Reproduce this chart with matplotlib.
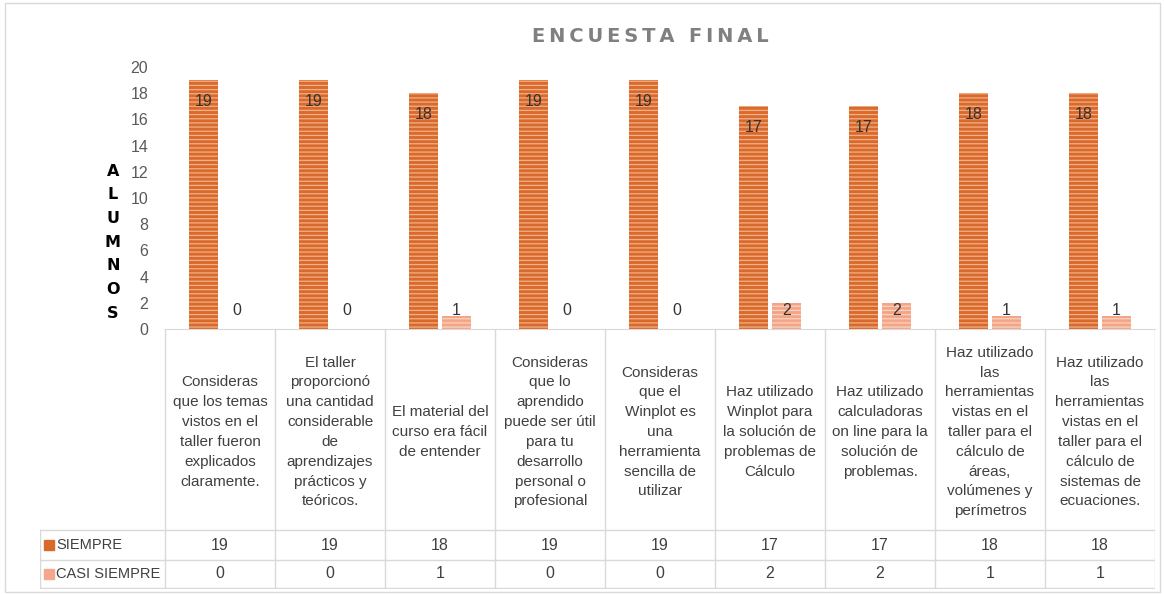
import matplotlib.pyplot as plt
import numpy as np
from matplotlib.patches import Rectangle

plt.rcParams['font.family'] = ['Liberation Sans', 'DejaVu Sans']
plt.rcParams['hatch.linewidth'] = 0.9

categories = [
    "Consideras\nque los temas\nvistos en el\ntaller fueron\nexplicados\nclaramente.",
    "El taller\nproporcionó\nuna cantidad\nconsiderable\nde\naprendizajes\nprácticos y\nteóricos.",
    "El material del\ncurso era fácil\nde entender",
    "Consideras\nque lo\naprendido\npuede ser útil\npara tu\ndesarrollo\npersonal o\nprofesional",
    "Consideras\nque el\nWinplot es\nuna\nherramienta\nsencilla de\nutilizar",
    "Haz utilizado\nWinplot para\nla solución de\nproblemas de\nCálculo",
    "Haz utilizado\ncalculadoras\non line para la\nsolución de\nproblemas.",
    "Haz utilizado\nlas\nherramientas\nvistas en el\ntaller para el\ncálculo de\náreas,\nvolúmenes y\nperímetros",
    "Haz utilizado\nlas\nherramientas\nvistas en el\ntaller para el\ncálculo de\nsistemas de\necuaciones.",
]
siempre = [19, 19, 18, 19, 19, 17, 17, 18, 18]
casi_siempre = [0, 0, 1, 0, 0, 2, 2, 1, 1]
series_names = ["SIEMPRE", "CASI SIEMPRE"]
y_label = "ALUMNOS"
title = "ENCUESTA FINAL"

W, H = 1164, 595
fig = plt.figure(figsize=(W / 100, H / 100), dpi=100)
fig.patch.set_facecolor('white')
fig.patches.append(Rectangle((5 / W, 3 / H), 1155 / W, 589 / H, transform=fig.transFigure,
                             fill=False, edgecolor='#D9D9D9', lw=1))

def px_axes(x0, y0, x1, y1):
    return fig.add_axes([x0 / W, 1 - y1 / H, (x1 - x0) / W, (y1 - y0) / H])

ax = px_axes(165, 67, 1155, 329)
x = np.arange(len(categories))
bw = 0.27
off = 0.15
text_col = '#404040'

ax.bar(x - off, siempre, bw, color='#D96A2B', edgecolor='#F2B088', hatch='----', lw=0)
ax.bar(x + off, casi_siempre, bw, color='#F3A586', edgecolor='#FAD3C3', hatch='----', lw=0)

for i, v in enumerate(siempre):
    ax.text(x[i] - off, v - 1.6, str(v), ha='center', va='center', fontsize=11.5, color='#333333')
for i, v in enumerate(casi_siempre):
    ax.text(x[i] + off, max(v, 2) - 0.6, str(v), ha='center', va='center', fontsize=11.5, color='#333333')

ax.set_xlim(-0.5, len(categories) - 0.5)
ax.set_ylim(0, 20)
ax.set_yticks(range(0, 21, 2))
ax.tick_params(axis='y', length=0, labelsize=11.5, labelcolor='#595959', pad=12)
ax.set_xticks([])
for s in ['top', 'right', 'left']:
    ax.spines[s].set_visible(False)
ax.spines['bottom'].set_color('#D9D9D9')

# stacked y label
for k, ch in enumerate(y_label):
    fig.text(113 / W, 1 - (171 + k * 23.7) / H, ch, ha='center', va='center',
             fontsize=11.5, fontweight='bold', color='black', family='DejaVu Sans')

fig.text(650 / W, 1 - 36 / H, '\u2009'.join(title), ha='center', va='center',
         fontsize=14, fontweight='bold', color='#808080', family='DejaVu Sans')

# data table
tax = px_axes(40, 329, 1155, 589)
tax.set_xlim(-0.5 - 125 / 110, len(categories) - 0.5)
tax.set_ylim(589, 329)
tax.axis('off')
lc = '#D9D9D9'
xl = -0.5 - 125 / 110
for b in np.arange(-0.5, len(categories), 1.0):
    tax.plot([b, b], [329, 588], color=lc, lw=1)
tax.plot([xl, xl], [530, 588], color=lc, lw=1)
for yy in [530, 560, 588]:
    tax.plot([xl, len(categories) - 0.5], [yy, yy], color=lc, lw=1)

for i, c in enumerate(categories):
    tax.text(x[i], 432, c, ha='center', va='center', fontsize=11, color=text_col,
             linespacing=1.53)
    tax.text(x[i], 545, str(siempre[i]), ha='center', va='center', fontsize=11.5, color=text_col)
    tax.text(x[i], 574, str(casi_siempre[i]), ha='center', va='center', fontsize=11.5, color=text_col)

key_cols = ['#D9692A', '#F2A88A']
for j, (name, yy) in enumerate(zip(series_names, [545, 574])):
    tax.add_patch(Rectangle((xl + 4 / 110, yy - 5), 10 / 110, 10, color=key_cols[j]))
    tax.text(xl + 16 / 110, yy, name, ha='left', va='center', fontsize=10.5, color=text_col)

fig.savefig('out.png', dpi=100)
